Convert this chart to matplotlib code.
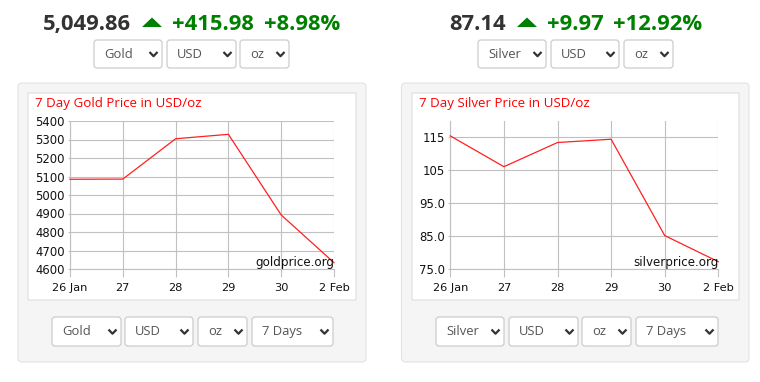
import matplotlib
matplotlib.use("Agg")
import matplotlib.pyplot as plt
from matplotlib.patches import FancyBboxPatch, Polygon

# ---------------- data ----------------
dates = ["26 Jan", "27", "28", "29", "30", "2 Feb"]
gold_prices = [5085, 5086, 5304, 5328, 4892, 4634]
silver_prices = [115.2, 105.9, 113.2, 114.2, 85.1, 77.2]

gold_yticks = [4600, 4700, 4800, 4900, 5000, 5100, 5200, 5300, 5400]
gold_ytick_labels = ["4600", "4700", "4800", "4900", "5000", "5100", "5200", "5300", "5400"]
silver_yticks = [75, 85, 95, 105, 115]
silver_ytick_labels = ["75.0", "85.0", "95.0", "105", "115"]

gold_header = ["5,049.86", "+415.98", "+8.98%"]
silver_header = ["87.14", "+9.97", "+12.92%"]
gold_title = "7 Day Gold Price in USD/oz"
silver_title = "7 Day Silver Price in USD/oz"
gold_top_dd = ["Gold", "USD", "oz"]
silver_top_dd = ["Silver", "USD", "oz"]
gold_bot_dd = ["Gold", "USD", "oz", "7 Days"]
silver_bot_dd = ["Silver", "USD", "oz", "7 Days"]

W, H = 760, 382
fig = plt.figure(figsize=(W / 100, H / 100), dpi=100)
fig.patch.set_facecolor("white")

bg = fig.add_axes([0, 0, 1, 1], zorder=0)
bg.set_xlim(0, W)
bg.set_ylim(H, 0)
bg.axis("off")

UI_FONT = ["Open Sans", "DejaVu Sans"]
GREEN = "#008000"
DARK = "#333333"


def rbox(x0, y0, x1, y1, fc, ec, r=4, lw=0.8, z=1):
    p = FancyBboxPatch((x0, y0), x1 - x0, y1 - y0,
                       boxstyle=f"round,pad=0,rounding_size={r}",
                       fc=fc, ec=ec, lw=lw, zorder=z)
    bg.add_patch(p)


def dropdown(x0, x1, y0, y1, label):
    rbox(x0, y0, x1, y1, "white", "#cccccc", r=3, lw=0.9, z=3)
    cy = (y0 + y1) / 2
    bg.text(x0 + 10, cy, label, fontsize=9.4, family=UI_FONT, color="#555555",
            ha="left", va="center", zorder=4)
    cx = x1 - 8.5
    bg.plot([cx - 4, cx, cx + 4], [cy - 2, cy + 2.2, cy - 2], color="#333333",
            lw=1.6, solid_capstyle="butt", zorder=4)


def header(xs, tri_x, labels):
    cy = 24.5
    bg.text(xs[0], cy, labels[0], fontsize=15.8, family=UI_FONT, weight="bold",
            color=DARK, ha="left", va="center")
    bg.add_patch(Polygon([[tri_x, 27], [tri_x + 20, 27], [tri_x + 10, 17.5]],
                         closed=True, fc=GREEN, ec="none"))
    bg.text(xs[1], cy, labels[1], fontsize=15.8, family=UI_FONT, weight="bold",
            color=GREEN, ha="left", va="center")
    bg.text(xs[2], cy, labels[2], fontsize=15.8, family=UI_FONT, weight="bold",
            color=GREEN, ha="left", va="center")


# ---------------- gold widget UI ----------------
header([43, 172, 264], 142, gold_header)
for (x0, x1), lab in zip([(94, 162), (167, 236), (240, 289)], gold_top_dd):
    dropdown(x0, x1, 40, 68, lab)
rbox(18, 83, 366, 362, "#f5f5f5", "#e3e3e3", r=4, z=1)
rbox(28, 93, 356, 300, "white", "#dddddd", r=0, z=2)
bg.text(35, 104, gold_title, fontsize=9.6, family=UI_FONT, color="red",
        ha="left", va="center", zorder=3)
for (x0, x1), lab in zip([(52, 121), (125, 193), (198, 247), (252, 333)], gold_bot_dd):
    dropdown(x0, x1, 317, 346, lab)

# ---------------- silver widget UI ----------------
header([449, 547, 613], 517, silver_header)
for (x0, x1), lab in zip([(478, 546), (551, 619), (624, 673)], silver_top_dd):
    dropdown(x0, x1, 40, 68, lab)
rbox(401.5, 83, 749, 362, "#f5f5f5", "#e3e3e3", r=4, z=1)
rbox(412, 93, 739, 300, "white", "#dddddd", r=0, z=2)
bg.text(419, 104, silver_title, fontsize=9.6, family=UI_FONT, color="red",
        ha="left", va="center", zorder=3)
for (x0, x1), lab in zip([(436, 504), (509, 578), (582, 631), (636, 718)], silver_bot_dd):
    dropdown(x0, x1, 317, 346, lab)


# ---------------- charts ----------------
def chart(px0, px1, py0, py1, values, yticks, ylabels, ylim, watermark):
    ax = fig.add_axes([px0 / W, 1 - py1 / H, (px1 - px0) / W, (py1 - py0) / H], zorder=5)
    ax.patch.set_alpha(0)
    x = list(range(len(dates)))
    ax.plot(x, values, color="#ff2020", lw=0.9, zorder=3, clip_on=False)
    ax.set_xlim(0, len(dates) - 1)
    ax.set_ylim(*ylim)
    ax.set_xticks(x)
    ax.set_xticklabels(dates)
    ax.set_yticks(yticks)
    ax.set_yticklabels(ylabels)
    ax.grid(True, color="#c0c0c0", lw=0.8)
    ax.set_axisbelow(True)
    for s in ["top", "right"]:
        ax.spines[s].set_visible(False)
    for s in ["left", "bottom"]:
        ax.spines[s].set_color("#c0c0c0")
        ax.spines[s].set_linewidth(0.8)
    ax.tick_params(axis="x", length=5.8, width=0.8, color="#c0c0c0", pad=4,
                   labelsize=8.2, labelcolor="#111111")
    ax.tick_params(axis="y", length=1.6, width=0.8, color="#c0c0c0", pad=2,
                   labelsize=8.4, labelcolor="#111111")
    for lab in ax.get_xticklabels() + ax.get_yticklabels():
        lab.set_family("DejaVu Sans")
    ax.text(1.0, 0.043, watermark, transform=ax.transAxes, ha="right", va="center",
            fontsize=8.6, family="DejaVu Sans", color="#111111", zorder=4)
    return ax


chart(70, 334, 121, 269, gold_prices, gold_yticks, gold_ytick_labels, (4600, 5400),
      "goldprice.org")
chart(450.3, 718.3, 121, 269, silver_prices, silver_yticks, silver_ytick_labels,
      (75, 119.7), "silverprice.org")

fig.savefig("out.png", dpi=100, facecolor="white")
